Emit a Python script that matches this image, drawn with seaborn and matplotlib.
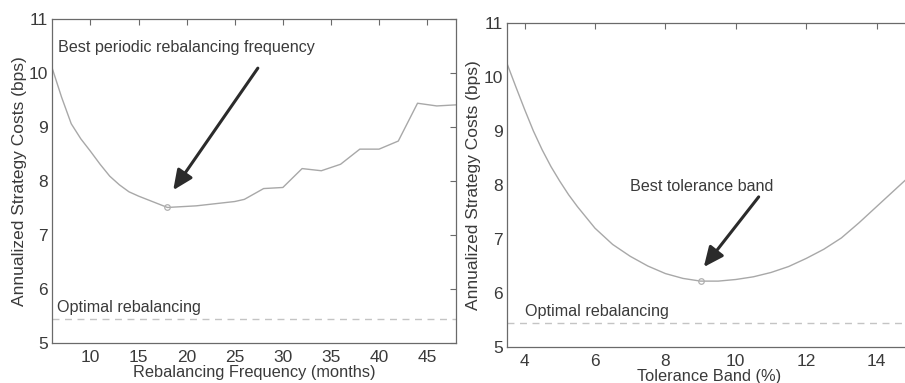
import numpy as np
import pandas as pd
import matplotlib
matplotlib.use("Agg")
import matplotlib.pyplot as plt
import seaborn as sns

# ---- data ----
freq_months = [6, 7, 8, 9, 10, 11, 12, 13, 14, 15, 16, 17, 18, 19, 20, 21, 22, 23, 24, 25, 26,
               28, 30, 32, 34, 36, 38, 40, 42, 44, 46, 48]
freq_costs = [10.10, 9.55, 9.06, 8.78, 8.55, 8.31, 8.09, 7.93, 7.80, 7.72, 7.65, 7.58, 7.51,
              7.52, 7.53, 7.54, 7.56, 7.58, 7.60, 7.62, 7.66,
              7.86, 7.88, 8.23, 8.19, 8.31, 8.59, 8.59, 8.74, 9.44, 9.39, 9.41]

band_pct = [3.5, 3.75, 4.0, 4.25, 4.5, 4.75, 5.0, 5.25, 5.5, 6.0, 6.5, 7.0, 7.5, 8.0, 8.5, 9.0,
            9.5, 10.0, 10.5, 11.0, 11.5, 12.0, 12.5, 13.0, 13.5, 14.0, 14.5, 15.0]
band_costs = [10.25, 9.82, 9.40, 9.00, 8.65, 8.34, 8.07, 7.82, 7.60, 7.20, 6.90, 6.68, 6.50,
              6.36, 6.27, 6.22, 6.22, 6.25, 6.30, 6.38, 6.49, 6.64, 6.81, 7.02, 7.30, 7.60,
              7.90, 8.20]

optimal_cost = 5.45

left_xticks = [10, 15, 20, 25, 30, 35, 40, 45]
right_xticks = [4, 6, 8, 10, 12, 14]
yticks = [5, 6, 7, 8, 9, 10, 11]

sns.set_theme(style="white")
plt.rcParams['font.family'] = ['Liberation Sans', 'DejaVu Sans']

TXT = "#3a3a3a"
SPINE = "#6a6a6a"
CURVE = "#a8a8a8"
DASH = "#c4c4c4"
ARROW = "#2b2b2b"

fig = plt.figure(figsize=(9.05, 3.83), dpi=100)
axL = fig.add_axes([52 / 905, 1 - 343 / 383, 404 / 905, 324 / 383])
axR = fig.add_axes([507 / 905, 1 - 347 / 383, 404.8 / 905, 324 / 383])

dfL = pd.DataFrame({"x": freq_months, "y": freq_costs})
dfR = pd.DataFrame({"x": band_pct, "y": band_costs})

for ax, df, xlim, xticks, xlabel, ypad in [
    (axL, dfL, (6, 48), left_xticks, "Rebalancing Frequency (months)", 1),
    (axR, dfR, (3.5, 15), right_xticks, "Tolerance Band (%)", 2),
]:
    sns.lineplot(data=df, x="x", y="y", ax=ax, color=CURVE, lw=1.0)
    i = int(np.argmin(df["y"].values))
    ax.plot(df["x"].values[i], df["y"].values[i], marker="o", ms=4, mfc="none",
            mec="#b0b0b0", mew=0.9)
    ax.axhline(optimal_cost, color=DASH, lw=1.0, ls=(0, (5, 4)))
    ax.set_xlim(*xlim)
    ax.set_ylim(5, 11)
    ax.set_xticks(xticks)
    ax.set_yticks(yticks)
    ax.tick_params(direction="in", length=4, width=0.8, color=SPINE, labelsize=12.5,
                   labelcolor=TXT, top=True, right=True, pad=3)
    ax.tick_params(axis="x", pad=5)
    for s in ax.spines.values():
        s.set_color(SPINE)
        s.set_linewidth(0.9)
    ax.set_xlabel(xlabel, fontsize=11.8, color=TXT, labelpad=0)
    ax.set_ylabel("Annualized Strategy Costs (bps)", fontsize=12.5, color=TXT, labelpad=ypad)
    ax.text(xlim[0] + 0.5, 5.65, "Optimal rebalancing", fontsize=11.6, color=TXT, va="center")

axL.text(6.6, 10.48, "Best periodic rebalancing frequency", fontsize=11.6, color=TXT, va="center")
axL.annotate("", xy=(18.6, 7.83), xytext=(27.4, 10.09),
             arrowprops=dict(arrowstyle="-|>,head_length=1.0,head_width=0.45",
                             color=ARROW, lw=2.2, shrinkA=0, shrinkB=0))

axR.text(7.0, 7.97, "Best tolerance band", fontsize=11.6, color=TXT, va="center")
axR.annotate("", xy=(9.09, 6.48), xytext=(10.65, 7.78),
             arrowprops=dict(arrowstyle="-|>,head_length=1.0,head_width=0.45",
                             color=ARROW, lw=2.2, shrinkA=0, shrinkB=0))

fig.savefig("out.png", dpi=100)
